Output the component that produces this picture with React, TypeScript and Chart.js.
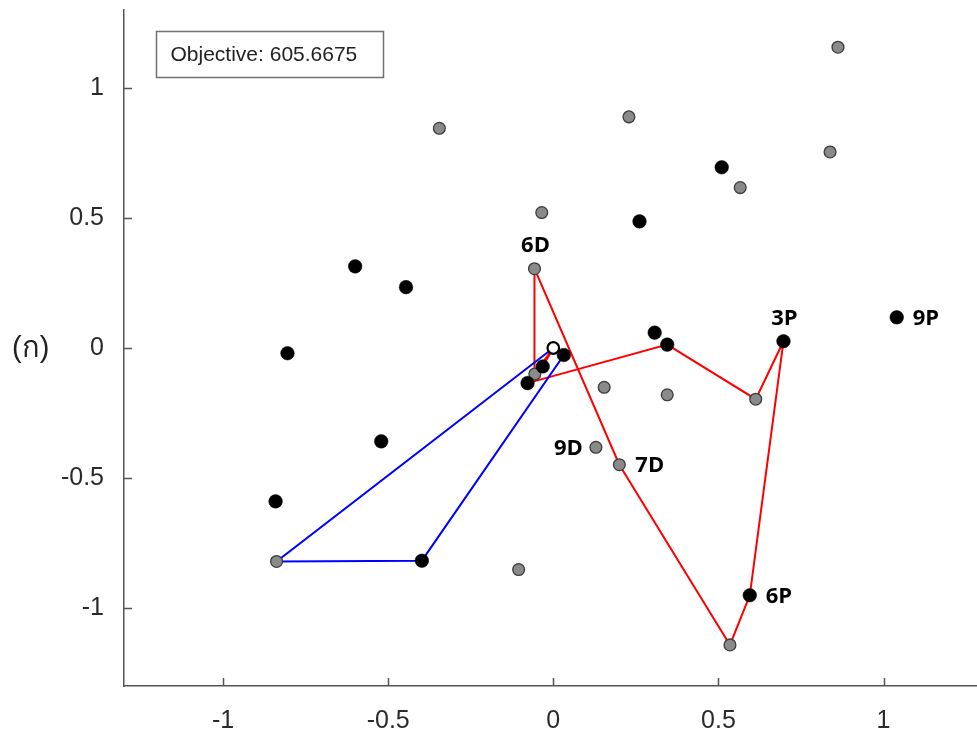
import React, { useEffect, useRef } from "react";
import { Chart, registerables } from "chart.js";

Chart.register(...registerables);

// Unserved / delivery points (gray)
const grayX = [0.862, -0.345, 0.229, 0.838, 0.566, -0.035, -0.057, -0.056, 0.154, 0.345, 0.613, 0.129, 0.2, -0.105, 0.535, -0.838];
const grayY = [1.157, 0.845, 0.889, 0.754, 0.617, 0.521, 0.305, -0.1, -0.151, -0.18, -0.197, -0.382, -0.449, -0.852, -1.142, -0.821];

// Pickup points (black)
const blackX = [0.51, 0.261, -0.6, -0.446, -0.805, 0.307, 0.345, 0.032, -0.032, -0.078, 0.697, 1.04, -0.521, -0.841, -0.398, 0.595];
const blackY = [0.695, 0.487, 0.314, 0.234, -0.02, 0.059, 0.013, -0.027, -0.071, -0.135, 0.026, 0.118, -0.359, -0.59, -0.818, -0.951];

// Depot
const depotX = [0];
const depotY = [0];

// Routes
const redRouteX = [0, -0.032, -0.056, -0.057, 0.2, 0.535, 0.595, 0.697, 0.613, 0.345, -0.078, 0];
const redRouteY = [0, -0.071, -0.1, 0.305, -0.449, -1.142, -0.951, 0.026, -0.197, 0.013, -0.135, 0];
const blueRouteX = [0, -0.838, -0.398, 0.032, 0];
const blueRouteY = [0, -0.821, -0.818, -0.027, 0];

// Point labels
const labelText = ["6D", "9D", "7D", "3P", "9P", "6P"];
const labelX = [-0.057, 0.129, 0.2, 0.697, 1.04, 0.595];
const labelY = [0.305, -0.382, -0.449, 0.026, 0.118, -0.951];
const labelSide = ["above", "left", "right", "above", "right", "right"];

// Axes
const xTicks = [-1, -0.5, 0, 0.5, 1];
const yTicks = [-1, -0.5, 0, 0.5, 1];
const xMin = -1.3;
const xMax = 1.28;
const yMin = -1.3;
const yMax = 1.3;

const objectiveText = "Objective: 605.6675";
const panelLabel = "(ก)";

const zip = (xs: number[], ys: number[]) => xs.map((x, i) => ({ x, y: ys[i] }));

const overlayPlugin = {
  id: "overlay",
  afterDraw(chart: any) {
    const { ctx, chartArea, scales } = chart;
    const xs = scales.x;
    const ys = scales.y;
    ctx.save();
    // inner tick marks
    ctx.strokeStyle = "#555";
    ctx.lineWidth = 1.5;
    ctx.beginPath();
    xTicks.forEach((v) => {
      const px = Math.round(xs.getPixelForValue(v)) + 0.5;
      ctx.moveTo(px, chartArea.bottom);
      ctx.lineTo(px, chartArea.bottom - 8);
    });
    yTicks.forEach((v) => {
      const py = Math.round(ys.getPixelForValue(v)) + 0.5;
      ctx.moveTo(chartArea.left, py);
      ctx.lineTo(chartArea.left + 8, py);
    });
    ctx.stroke();

    // point labels
    ctx.fillStyle = "#000";
    ctx.font = "bold 22px 'Open Sans', 'Noto Sans', sans-serif";
    ctx.textBaseline = "middle";
    labelText.forEach((t, i) => {
      const px = xs.getPixelForValue(labelX[i]);
      const py = ys.getPixelForValue(labelY[i]);
      const side = labelSide[i];
      if (side === "above") {
        ctx.textAlign = "center";
        ctx.fillText(t, px + 1, py - 23);
      } else if (side === "left") {
        ctx.textAlign = "right";
        ctx.fillText(t, px - 13, py + 1);
      } else {
        ctx.textAlign = "left";
        ctx.fillText(t, px + 16, py + 1);
      }
    });

    // objective box
    const bx = chartArea.left + 32.5;
    const by = chartArea.top + 21.5;
    ctx.fillStyle = "#fff";
    ctx.fillRect(bx, by, 227, 46);
    ctx.strokeStyle = "#707070";
    ctx.lineWidth = 1.5;
    ctx.strokeRect(bx, by, 227, 46);
    ctx.fillStyle = "#222";
    ctx.font = "21px 'Liberation Sans', Arial, sans-serif";
    ctx.textAlign = "left";
    ctx.textBaseline = "middle";
    ctx.fillText(objectiveText, bx + 14, by + 24);

    // panel label
    ctx.font = "29px 'Liberation Sans', 'DejaVu Sans', sans-serif";
    ctx.fillStyle = "#222";
    ctx.textAlign = "left";
    ctx.fillText(panelLabel, 12, ys.getPixelForValue(0) + 1);
    ctx.restore();
  },
};

export default function App() {
  const ref = useRef<HTMLCanvasElement | null>(null);
  useEffect(() => {
    if (!ref.current) return;
    const tickFont = { family: "'Liberation Sans', Arial, sans-serif", size: 25 };
    const chart = new Chart(ref.current, {
      type: "scatter",
      data: {
        datasets: [
          {
            label: "red",
            data: zip(redRouteX, redRouteY),
            showLine: true,
            borderColor: "#ff0000",
            borderWidth: 2,
            pointRadius: 0,
            order: 10,
          },
          {
            label: "blue",
            data: zip(blueRouteX, blueRouteY),
            showLine: true,
            borderColor: "#0000ff",
            borderWidth: 2,
            pointRadius: 0,
            order: 9,
          },
          {
            label: "gray",
            data: zip(grayX, grayY),
            pointRadius: 5.9,
            backgroundColor: "#8a8a8a",
            borderColor: "#3c3c3c",
            borderWidth: 1.3,
            order: 3,
          },
          {
            label: "black",
            data: zip(blackX, blackY),
            pointRadius: 6.8,
            backgroundColor: "#000",
            borderColor: "#000",
            borderWidth: 0.5,
            order: 2,
          },
          {
            label: "depot",
            data: zip(depotX, depotY),
            pointRadius: 5.8,
            backgroundColor: "#fff",
            borderColor: "#000",
            borderWidth: 2.2,
            order: 1,
          },
        ],
      },
      options: {
        responsive: false,
        animation: false,
        devicePixelRatio: 1,
        layout: { autoPadding: false, padding: { left: 0, top: 10, right: 1, bottom: 0 } },
        plugins: { legend: { display: false }, tooltip: { enabled: false } },
        scales: {
          x: {
            type: "linear",
            min: xMin,
            max: xMax,
            grid: { display: false },
            border: { display: true, color: "#555", width: 1.5 },
            afterBuildTicks: (s: any) => {
              s.ticks = xTicks.map((v) => ({ value: v }));
            },
            afterFit: (s: any) => {
              s.height = 47;
              s.paddingLeft = 0;
              s.paddingRight = 0;
            },
            ticks: {
              color: "#2a2a2a",
              font: tickFont,
              padding: 12,
              maxRotation: 0,
              autoSkip: false,
              callback: (v: any) => String(v),
            },
          },
          y: {
            type: "linear",
            min: yMin,
            max: yMax,
            grid: { display: false },
            border: { display: true, color: "#555", width: 1.5 },
            afterBuildTicks: (s: any) => {
              s.ticks = yTicks.map((v) => ({ value: v }));
            },
            afterFit: (s: any) => {
              s.width = 124;
              s.paddingTop = 0;
              s.paddingBottom = 0;
            },
            ticks: {
              color: "#2a2a2a",
              font: tickFont,
              padding: 12,
              autoSkip: false,
              callback: (v: any) => String(v),
            },
          },
        },
      },
      plugins: [overlayPlugin],
    });
    return () => chart.destroy();
  }, []);
  return (
    <div style={{ position: "absolute", left: 0, top: 0, width: 977, height: 733, background: "#fff" }}>
      <canvas ref={ref} width={977} height={733} style={{ display: "block" }} />
    </div>
  );
}
